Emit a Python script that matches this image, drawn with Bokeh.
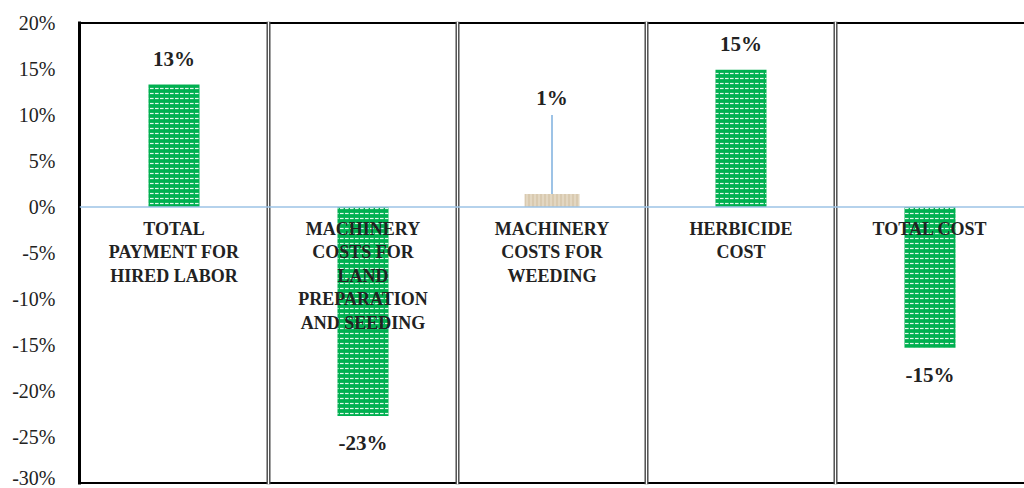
from bokeh.plotting import figure
from bokeh.models import ColumnDataSource, Range1d, FixedTicker, Span
from bokeh.core.properties import value
from bokeh.embed import file_html
from bokeh.resources import INLINE

categories = [
    "TOTAL\nPAYMENT FOR\nHIRED LABOR",
    "MACHINERY\nCOSTS FOR\nLAND\nPREPARATION\nAND SEEDING",
    "MACHINERY\nCOSTS FOR\nWEEDING",
    "HERBICIDE\nCOST",
    "TOTAL COST",
]
values = [13.3, -22.7, 1.4, 14.9, -15.3]
value_labels = ["13%", "-23%", "1%", "15%", "-15%"]
y_ticks = [-30, -25, -20, -15, -10, -5, 0, 5, 10, 15, 20]
leader_index = 2      # the small bar whose label sits on a leader line
leader_label_y = 10   # value at which that label sits

GREEN = "#00B050"
TAN = "#D9CAB0"
SERIF = value("Liberation Serif")

x = [i + 1 for i in range(len(categories))]
pad = 0.15

p = figure(width=1024, height=488, output_backend="svg", toolbar_location=None,
           x_range=Range1d(0.5, len(categories) + 0.5),
           y_range=Range1d(y_ticks[0] - pad, y_ticks[-1] + pad),
           min_border_left=79, min_border_right=0, min_border_top=21, min_border_bottom=4)
p.outline_line_color = None
p.xgrid.visible = False
p.ygrid.visible = False
p.xaxis.visible = False
p.background_fill_color = "white"
p.border_fill_color = "white"

ya = p.yaxis[0]
ya.ticker = FixedTicker(ticks=y_ticks)
ya.major_label_overrides = {t: f"{t}%" for t in y_ticks}
ya.major_label_text_font = "Liberation Serif"
ya.major_label_text_font_size = "20px"
ya.major_label_text_color = "#222222"
ya.major_label_standoff = 18
ya.major_tick_line_color = None
ya.minor_tick_line_color = None
ya.axis_line_color = "black"
ya.axis_line_width = 3

# top and bottom frame lines
p.add_layout(Span(location=y_ticks[-1], dimension="width", line_color="black", line_width=2))
p.add_layout(Span(location=y_ticks[0], dimension="width", line_color="black", line_width=2))

# separators between categories (double lines)
for b in x[:-1]:
    p.add_layout(Span(location=b + 0.5, dimension="height", line_color="#444444", line_width=4))
    p.add_layout(Span(location=b + 0.5, dimension="height", line_color="white", line_width=1.2))

main_idx = [i for i in range(len(values)) if i != leader_index]
src_main = ColumnDataSource(dict(x=[x[i] for i in main_idx], top=[values[i] for i in main_idx]))
src_small = ColumnDataSource(dict(x=[x[leader_index]], top=[values[leader_index]]))

p.vbar(x="x", top="top", bottom=0, width=0.27, source=src_main,
       fill_color=GREEN, line_color=None,
       hatch_pattern='"', hatch_color="white", hatch_scale=5, hatch_weight=1.2, hatch_alpha=0.9)
p.vbar(x="x", top="top", bottom=0, width=0.29, source=src_small,
       fill_color=TAN, line_color=None,
       hatch_pattern="|", hatch_color="#EDE4D3", hatch_scale=4, hatch_weight=1)

# zero line
p.add_layout(Span(location=0, dimension="width", line_color="#9DC3E6", line_width=1.5))

# leader line for small bar
p.segment(x0=[x[leader_index]], y0=[values[leader_index]], x1=[x[leader_index]], y1=[leader_label_y],
          line_color="#9DC3E6", line_width=2)

# category labels
p.text(x=x, y=[0] * len(x), text=categories, text_font=SERIF, text_font_style="bold",
       text_font_size="18px", text_color="#222222", text_align="center",
       text_baseline="top", text_line_height=1.17, y_offset=12)

# value labels
pos = [i for i in range(len(values)) if values[i] >= 0 and i != leader_index]
neg = [i for i in range(len(values)) if values[i] < 0]
p.text(x=[x[i] for i in pos], y=[values[i] for i in pos], text=[value_labels[i] for i in pos],
       text_font=SERIF, text_font_style="bold", text_font_size="21px", text_color="#222222",
       text_align="center", text_baseline="bottom", y_offset=-14)
p.text(x=[x[i] for i in neg], y=[values[i] for i in neg], text=[value_labels[i] for i in neg],
       text_font=SERIF, text_font_style="bold", text_font_size="21px", text_color="#222222",
       text_align="center", text_baseline="top", y_offset=15)
p.text(x=[x[leader_index]], y=[leader_label_y], text=[value_labels[leader_index]],
       text_font=SERIF, text_font_style="bold", text_font_size="21px", text_color="#222222",
       text_align="center", text_baseline="bottom", y_offset=-5)

open("out.html", "w").write(file_html(p, INLINE))
